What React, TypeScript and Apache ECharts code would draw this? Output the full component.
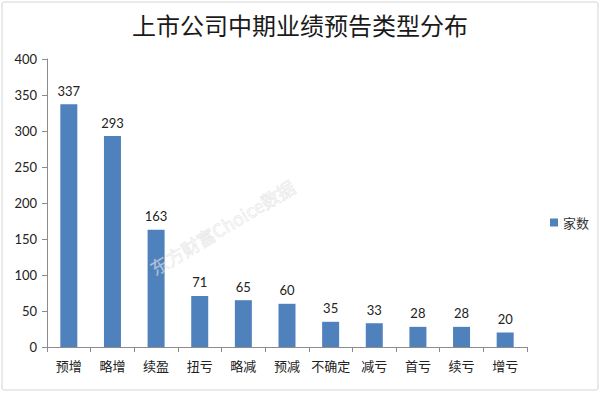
import React, { useEffect, useRef } from "react";
import * as echarts from "echarts";

const categories = ["预增", "略增", "续盈", "扭亏", "略减", "预减", "不确定", "减亏", "首亏", "续亏", "增亏"];
const values = [337, 293, 163, 71, 65, 60, 35, 33, 28, 28, 20];
const seriesName = "家数";
const titleText = "上市公司中期业绩预告类型分布";
const watermark = "东方财富Choice数据";

const FONT = "Lato, 'Noto Sans CJK SC', sans-serif";

export default function App() {
  const ref = useRef<HTMLDivElement>(null);
  useEffect(() => {
    document.body.style.margin = "0";
    const chart = echarts.init(ref.current!, null, { renderer: "svg" });
    chart.setOption({
      animation: false,
      backgroundColor: "#ffffff",
      title: {
        text: titleText,
        left: "center",
        top: 7,
        textStyle: { fontSize: 24, fontWeight: "normal", color: "#1a1a1a", fontFamily: "'Noto Sans CJK SC', sans-serif" },
      },
      legend: {
        data: [seriesName],
        left: 545,
        top: 211,
        itemWidth: 8,
        itemHeight: 8,
        itemGap: 4,
        icon: "rect",
        textStyle: { fontSize: 13, color: "#333", fontFamily: FONT },
      },
      grid: { left: 47, right: 73, top: 59, bottom: 47, containLabel: false },
      xAxis: {
        type: "category",
        data: categories,
        axisLine: { lineStyle: { color: "#8c8c8c" } },
        axisTick: { show: true, length: 5, alignWithLabel: false, lineStyle: { color: "#8c8c8c" } },
        axisLabel: { fontSize: 13, color: "#222", margin: 12, interval: 0, fontFamily: FONT },
      },
      yAxis: {
        type: "value",
        min: 0,
        max: 400,
        interval: 50,
        axisLine: { show: true, lineStyle: { color: "#8c8c8c" } },
        axisTick: { show: true, length: 5, lineStyle: { color: "#8c8c8c" } },
        splitLine: { show: false },
        axisLabel: { fontSize: 13, color: "#222", margin: 10, fontFamily: FONT },
      },
      series: [
        {
          name: seriesName,
          type: "bar",
          data: values,
          barWidth: 17,
          itemStyle: { color: "#4f81bd" },
          label: { show: true, position: "top", distance: 7, fontSize: 13, color: "#222", fontFamily: FONT },
        },
      ],
      graphic: [
        {
          type: "rect",
          shape: { x: 2, y: 2, width: 596, height: 388, r: 2 },
          style: { fill: "none", stroke: "#d4d4d4", lineWidth: 1 },
          silent: true,
        },
        {
          type: "text",
          x: 222,
          y: 227,
          rotation: 0.54,
          style: {
            text: watermark,
            fontSize: 18,
            fontFamily: "'Noto Sans CJK SC', sans-serif",
            fill: "rgba(245,245,245,0.5)",
            stroke: "rgba(185,185,185,0.45)",
            lineWidth: 0.6,
            align: "center",
            verticalAlign: "middle",
          },
          silent: true,
          z: 10,
        },
      ],
    });
    return () => chart.dispose();
  }, []);
  return <div ref={ref} style={{ width: 600, height: 394 }} />;
}
